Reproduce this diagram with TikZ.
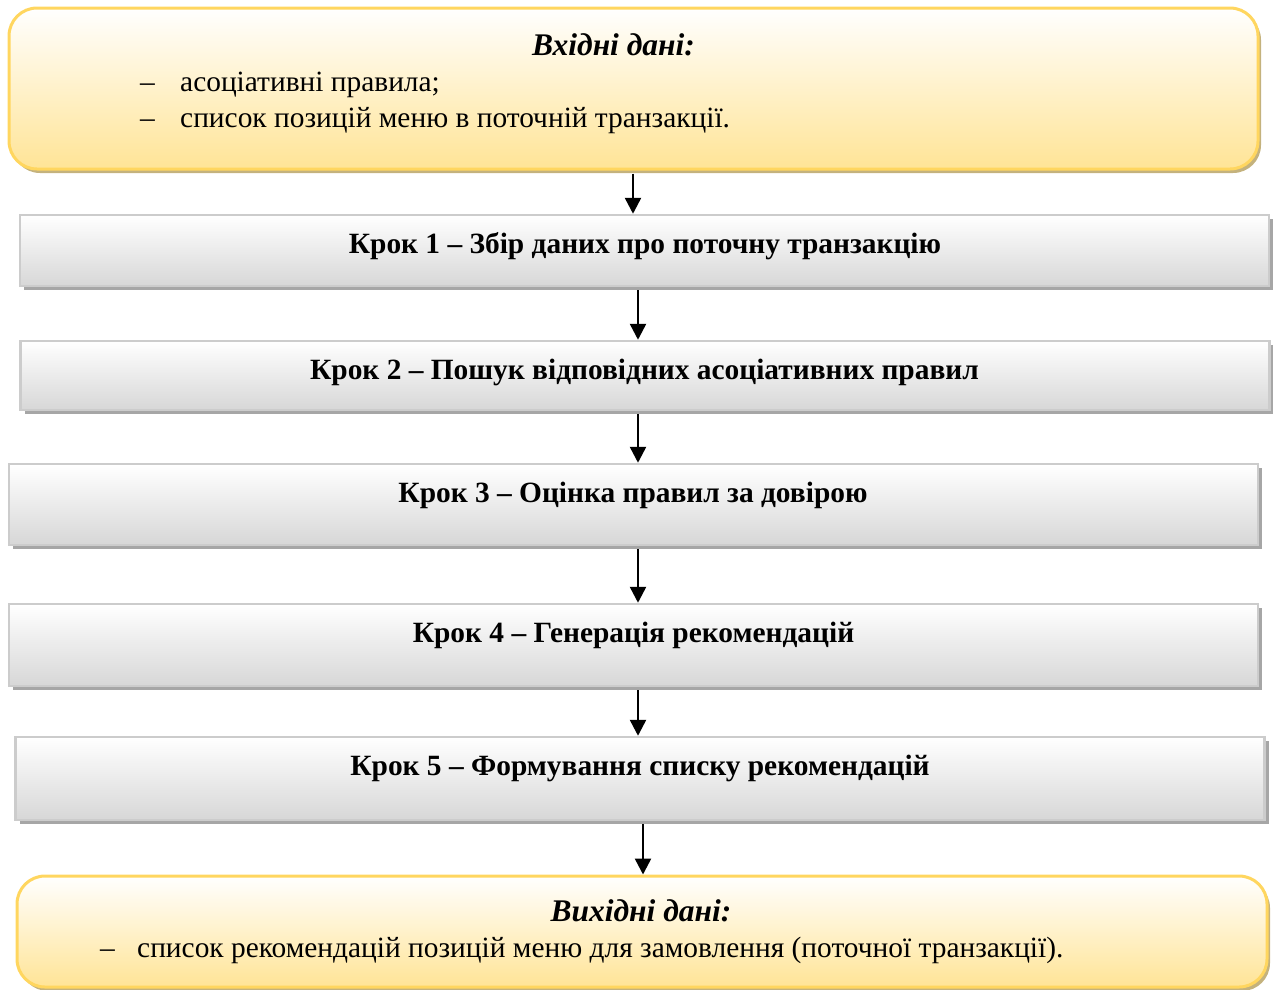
\documentclass[tikz,border=0pt]{standalone}
\usepackage{fontspec}
\setmainfont{Liberation Serif}
\usetikzlibrary{arrows.meta,shadows}
\definecolor{inborder}{RGB}{255,214,95}
\definecolor{inbottom}{RGB}{255,228,150}
\definecolor{inshadow}{RGB}{196,178,125}
\definecolor{stepborder}{RGB}{204,204,204}
\definecolor{stepbottom}{RGB}{215,215,215}
\definecolor{stepshadow}{RGB}{166,166,166}
\begin{document}
\begin{tikzpicture}[x=1pt, y=-1pt,
    every node/.style={font=\fontsize{29.4}{34}\selectfont, inner sep=0pt},
    databox/.style={draw=inborder, line width=3pt, rounded corners=28pt, top color=white, bottom color=inbottom, minimum width=1249pt,
        drop shadow={shadow xshift=3pt, shadow yshift=-4pt, fill=inshadow, opacity=1}},
    stepbox/.style={draw=stepborder, line width=2.5pt, top color=white, bottom color=stepbottom, minimum width=1249pt,
        drop shadow={shadow xshift=4pt, shadow yshift=-4pt, fill=stepshadow, opacity=1}},
    steptext/.style={anchor=base, font=\fontsize{29.4}{34}\selectfont\bfseries},
    headtext/.style={anchor=base, font=\fontsize{31.5}{36}\selectfont\bfseries\itshape},
    arr/.style={-{Triangle[width=16pt,length=16pt]}, line width=2.5pt, shorten <=3pt}]
        \useasboundingbox (0,0) rectangle (1273,989);
        % Input data
        \node[databox, minimum height=161pt] (in) at (633.5,88.5) {};
        \node[headtext] (inhead) at (613.5,55) {Вхідні дані:};
        \node[anchor=base west] (ind1) at (140,91) {–};
        \node[anchor=base west] (in1) at (180,91) {асоціативні правила;};
        \node[anchor=base west] (ind2) at (140,127) {–};
        \node[anchor=base west] (in2) at (180,127) {список позицій меню в поточній транзакції.};

        % Steps
        \node[stepbox, minimum height=71pt] (s1) at (644.5,250.5) {};
        \node[stepbox, minimum height=69pt] (s2) at (645,375.5) {};
        \node[stepbox, minimum height=81pt] (s3) at (633.5,504.5) {};
        \node[stepbox, minimum height=82pt] (s4) at (633.5,645) {};
        \node[stepbox, minimum height=83pt] (s5) at (640,778.5) {};
        \node[steptext] (t1) at (645,253) {Крок 1 – Збір даних про поточну транзакцію};
        \node[steptext] (t2) at (644.5,379) {Крок 2 – Пошук відповідних асоціативних правил};
        \node[steptext] (t3) at (633,502) {Крок 3 – Оцінка правил за довірою};
        \node[steptext] (t4) at (633.5,642) {Крок 4 – Генерація рекомендацій};
        \node[steptext] (t5) at (640,775) {Крок 5 – Формування списку рекомендацій};

        % Output data
        \node[databox, minimum width=1250pt, minimum height=111pt] (out) at (642,931.5) {};
        \node[headtext] (outhead) at (641,921) {Вихідні дані:};
        \node[anchor=base west] (outd1) at (100,957) {–};
        \node[anchor=base west] (out1) at (137,957) {список рекомендацій позицій меню для замовлення (поточної транзакції).};

        % Arrows between the boxes
        \foreach \a/\b/\x in {in/s1/633, s1/s2/638, s2/s3/638, s3/s4/638, s4/s5/638, s5/out/643} {
            \draw[arr] (\a.south -| \x,0) -- (\b.north -| \x,0);
        }
    \end{tikzpicture}
\end{document}
